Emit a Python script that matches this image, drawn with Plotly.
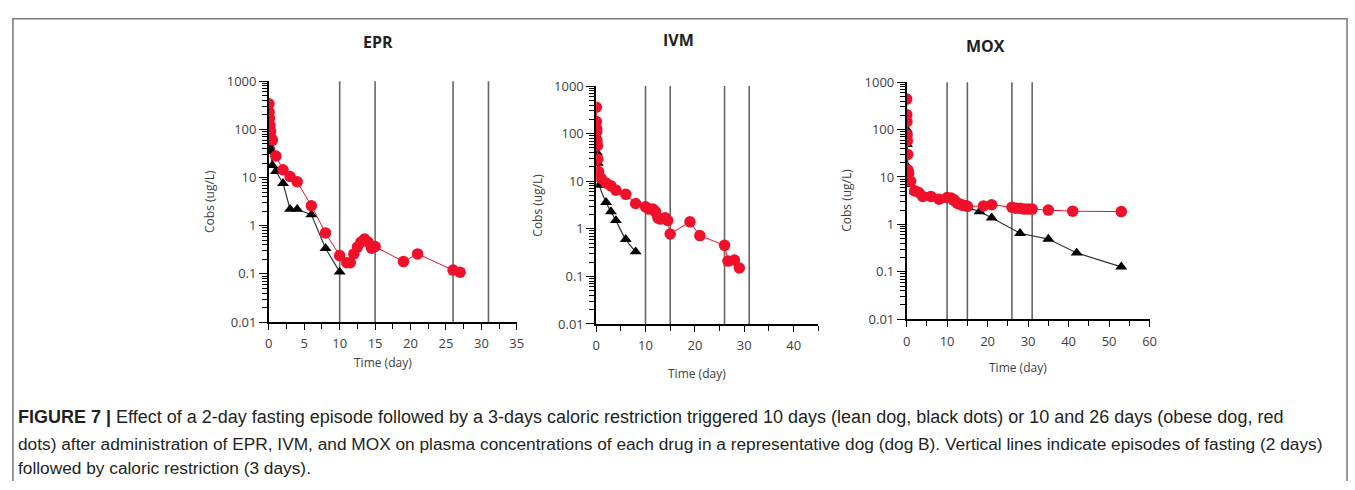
import plotly.graph_objects as go

W, H = 1355, 490

# ---------------- data ----------------
epr_red_t = [0.02, 0.04, 0.08, 0.17, 0.25, 0.33, 0.5, 1, 2, 3, 4, 6, 8, 10, 11, 11.5, 12, 12.5, 13, 13.5, 14, 14.5, 15, 19, 21, 26, 27]
epr_red_c = [340, 230, 170, 120, 90, 65, 60, 28, 14.5, 10.5, 8.2, 2.6, 0.71, 0.24, 0.17, 0.17, 0.26, 0.36, 0.46, 0.53, 0.46, 0.34, 0.37, 0.18, 0.26, 0.12, 0.108]
epr_blk_t = [0.04, 0.08, 0.17, 0.25, 0.5, 1, 2, 3, 4, 6, 8, 10]
epr_blk_c = [60, 45, 40, 35, 18, 13.5, 7.6, 2.2, 2.2, 1.7, 0.34, 0.11]

ivm_red_t = [0.02, 0.04, 0.08, 0.12, 0.17, 0.25, 0.33, 0.5, 1, 2, 3, 4, 6, 8, 10, 10.7, 11.5, 12, 12.5, 13, 14, 14.5, 15, 19, 21, 26, 26.7, 28, 29]
ivm_red_c = [360, 180, 130, 110, 70, 56, 29, 16, 11.5, 9.2, 8, 6.5, 5.3, 3.4, 2.9, 2.6, 2.6, 2.3, 1.7, 1.6, 1.7, 1.5, 0.78, 1.4, 0.72, 0.45, 0.21, 0.22, 0.15]
ivm_blk_t = [0.04, 0.08, 0.17, 0.33, 0.67, 2, 3, 4, 6, 8]
ivm_blk_c = [90, 60, 40, 24, 8.3, 3.6, 2.3, 1.5, 0.6, 0.33]

mox_red_t = [0.02, 0.04, 0.08, 0.12, 0.17, 0.25, 0.33, 0.5, 1, 2, 3, 4, 6, 8, 10, 11, 11.5, 12, 12.5, 13, 13.5, 14, 14.5, 15, 19, 21, 26, 27, 28, 29, 30, 31, 35, 41, 53]
mox_red_c = [440, 207, 147, 78, 58, 30, 14, 12, 8.1, 5.1, 4.7, 3.9, 3.9, 3.4, 3.7, 3.6, 3.4, 3.1, 2.8, 2.7, 2.6, 2.5, 2.5, 2.4, 2.45, 2.6, 2.3, 2.2, 2.2, 2.1, 2.1, 2.1, 2.0, 1.9, 1.86]
mox_blk_t = [0.04, 0.08, 0.17, 0.33, 0.5, 1, 2, 4, 6, 8, 10, 12, 14, 15, 18, 21, 28, 35, 42, 53]
mox_blk_c = [100, 49, 16.6, 12, 9, 7, 4.9, 4.2, 3.7, 3.4, 3.3, 3.0, 2.5, 2.3, 1.86, 1.38, 0.65, 0.49, 0.25, 0.127]

titles = ["EPR", "IVM", "MOX"]
fasting_days = [10, 15, 26, 31]
y_tickvals = [0.01, 0.1, 1, 10, 100, 1000]
y_ticktext = ["0.01", "0.1", "1", "10", "100", "1000"]
x_ranges = [[0, 35], [0, 45], [0, 60]]
x_dticks = [5, 10, 10]
x_minor = [2.5, 5, 5]

caption_lines = [
    "<b>FIGURE 7 |</b> Effect of a 2-day fasting episode followed by a 3-days caloric restriction triggered 10 days (lean dog, black dots) or 10 and 26 days (obese dog, red",
    "dots) after administration of EPR, IVM, and MOX on plasma concentrations of each drug in a representative dog (dog B). Vertical lines indicate episodes of fasting (2 days)",
    "followed by caloric restriction (3 days).",
]

# ---------------- layout (pixels) ----------------
panels = [
    dict(x0=267, x1=517, ytop=75, ybot=325, tx=377, ty=34, ylab_x=207, xlab_y=367),
    dict(x0=597, x1=821, ytop=80, ybot=327, tx=680, ty=32, ylab_x=537, xlab_y=378),
    dict(x0=910, x1=1155, ytop=76, ybot=322, tx=990, ty=38, ylab_x=850, xlab_y=372),
]

RED = "#F0102A"
data_sets = [
    (epr_red_t, epr_red_c, epr_blk_t, epr_blk_c),
    (ivm_red_t, ivm_red_c, ivm_blk_t, ivm_blk_c),
    (mox_red_t, mox_red_c, mox_blk_t, mox_blk_c),
]

fig = go.Figure()
TICKFONT = dict(family="Open Sans, DejaVu Sans", size=13, color="#404040")

for i, (p, ds) in enumerate(zip(panels, data_sets)):
    xa = "x" if i == 0 else f"x{i+1}"
    ya = "y" if i == 0 else f"y{i+1}"
    rt, rc, bt, bc = ds
    fig.add_trace(go.Scatter(x=bt, y=bc, mode="lines+markers", xaxis=xa, yaxis=ya,
                             line=dict(color="#333333", width=1.2, shape="spline" if i == 1 else "linear"),
                             marker=dict(symbol="triangle-up", size=10.5, color="black"),
                             showlegend=False))
    fig.add_trace(go.Scatter(x=rt, y=rc, mode="lines+markers", xaxis=xa, yaxis=ya,
                             line=dict(color=RED, width=1),
                             marker=dict(symbol="circle", size=11.5, color=RED),
                             showlegend=False))
    xk = "xaxis" if i == 0 else f"xaxis{i+1}"
    yk = "yaxis" if i == 0 else f"yaxis{i+1}"
    fig.layout[xk] = dict(
        domain=[p["x0"] / W, p["x1"] / W], range=x_ranges[i], anchor=ya,
        showgrid=False, zeroline=False, showline=True, linecolor="black", linewidth=1.5,
        ticks="outside", ticklen=6, tickcolor="black", dtick=x_dticks[i], tick0=0,
        ticklabelstandoff=3,
        minor=dict(ticks="outside", ticklen=5, dtick=x_minor[i], tick0=0, tickcolor="black"),
        tickfont=TICKFONT,
    )
    fig.layout[yk] = dict(
        domain=[1 - p["ybot"] / H, 1 - p["ytop"] / H], type="log", range=[-2, 3], anchor=xa,
        showgrid=False, zeroline=False, showline=True, linecolor="black", linewidth=1.5,
        ticks="outside", ticklen=8, tickcolor="black",
        tickvals=y_tickvals, ticktext=y_ticktext,
        minor=dict(ticks="outside", ticklen=5, dtick="D1", tickcolor="black"),
        tickfont=TICKFONT,
    )
    for d in fasting_days:
        fig.add_shape(type="line", xref=xa, yref=f"{ya} domain", x0=d, x1=d, y0=0, y1=1,
                      line=dict(color="#666666", width=1.6), layer="below")
    fig.add_annotation(text=f"<b>{titles[i]}</b>", x=p["tx"] / W, y=1 - p["ty"] / H,
                       xref="paper", yref="paper", showarrow=False, xanchor="center", yanchor="middle",
                       font=dict(family="Open Sans, DejaVu Sans", size=16, color="#222222"))
    fig.add_annotation(text="Cobs (ug/L)", x=p["ylab_x"] / W, y=1 - (p["ytop"] + p["ybot"]) / 2 / H,
                       xref="paper", yref="paper", showarrow=False, textangle=-90,
                       xanchor="center", yanchor="middle",
                       font=dict(family="Open Sans, DejaVu Sans", size=12, color="#404040"))
    fig.add_annotation(text="Time (day)", x=(p["x0"] + p["x1"] - 20) / 2 / W, y=1 - p["xlab_y"] / H,
                       xref="paper", yref="paper", showarrow=False, xanchor="center", yanchor="middle",
                       font=dict(family="Open Sans, DejaVu Sans", size=12, color="#404040"))

# caption
for line, yy, fs in zip(caption_lines, [424, 452, 477], [18.0, 17.3, 17.3]):
    fig.add_annotation(text=line, x=12 / W, y=1 - yy / H, xref="paper", yref="paper",
                       showarrow=False, xanchor="left", yanchor="middle",
                       font=dict(family="Liberation Sans, Arial", size=fs, color="#231F20"))

# frame
fig.add_shape(type="path", xref="paper", yref="paper",
              path=f"M {9/W} 0 L {9/W} {1-10/H} L {1354/W} {1-10/H} L {1354/W} 0",
              line=dict(color="#777777", width=1.5))

fig.update_layout(width=W, height=H, margin=dict(l=0, r=0, t=0, b=0),
                  paper_bgcolor="white", plot_bgcolor="white")
fig.write_html("out.html")
